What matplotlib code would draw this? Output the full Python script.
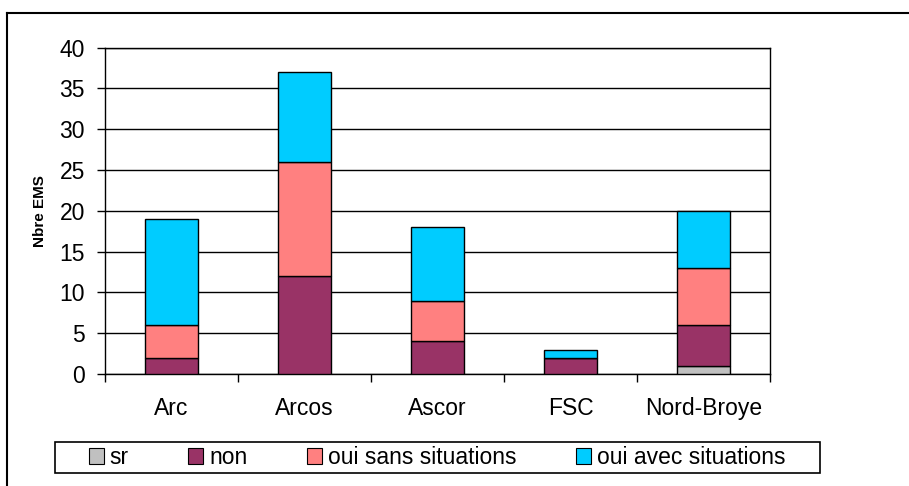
import matplotlib
matplotlib.use("Agg")
import matplotlib.pyplot as plt
import numpy as np
from matplotlib.patches import Rectangle, Patch
from matplotlib.lines import Line2D

plt.rcParams['font.family'] = ['Liberation Sans', 'DejaVu Sans']

categories = ["Arc", "Arcos", "Ascor", "FSC", "Nord-Broye"]
series_names = ["sr", "non", "oui sans situations", "oui avec situations"]
sr = [0, 0, 0, 0, 1]
non = [2, 12, 4, 2, 5]
oui_sans = [4, 14, 5, 0, 7]
oui_avec = [13, 11, 9, 1, 7]
colors = ["#C0C0C0", "#993366", "#FF8080", "#00CCFF"]
yticks = [0, 5, 10, 15, 20, 25, 30, 35, 40]

W, H = 909, 486
fig = plt.figure(figsize=(W / 100, H / 100), dpi=100)
fig.patch.set_facecolor("white")

left, right, top, bottom = 105, 770, 47.7, 374
ax = fig.add_axes([left / W, 1 - bottom / H, (right - left) / W, (bottom - top) / H])

x = np.arange(len(categories))
base = np.zeros(len(categories))
for vals, col, name in zip([sr, non, oui_sans, oui_avec], colors, series_names):
    v = np.array(vals, dtype=float)
    ax.bar(x, v, bottom=base, width=0.4, color=col, edgecolor="black", linewidth=1.0, zorder=3, label=name)
    base += v

ax.set_xlim(-0.5, len(categories) - 0.5)
ax.set_ylim(0, 40)
ax.set_yticks(yticks)
ax.set_yticklabels([str(t) for t in yticks], fontsize=16.5)
ax.yaxis.grid(True, color="black", linewidth=1.0, zorder=0)
ax.set_axisbelow(True)

# category boundary ticks
ax.set_xticks(np.arange(-0.5, len(categories), 1.0))
ax.set_xticklabels([])
ax.set_xticks(x, minor=True)
ax.set_xticklabels(categories, minor=True, fontsize=16.5)
ax.tick_params(axis="x", which="major", direction="out", length=6, width=1, color="black")
ax.tick_params(axis="x", which="minor", length=0, pad=16.5)
ax.tick_params(axis="y", direction="out", length=6, width=1, pad=8.5)
for s in ax.spines.values():
    s.set_color("black")
    s.set_linewidth(1.0)

fig.text(40 / W, 1 - 211 / H, "Nbre EMS", rotation=90, ha="center", va="center",
         fontsize=11, fontweight="bold")

# outer frame (top and left)
fig.add_artist(Line2D([7 / W, 908 / W], [1 - 13 / H, 1 - 13 / H], color="black", linewidth=1.5,
                      transform=fig.transFigure))
fig.add_artist(Line2D([7 / W, 7 / W], [1 - 13 / H, 0], color="black", linewidth=1.5,
                      transform=fig.transFigure))

# legend frame
fig.add_artist(Rectangle((55 / W, 1 - 473 / H), (820 - 55) / W, (473 - 442) / H,
                         transform=fig.transFigure, facecolor="white", edgecolor="black",
                         linewidth=1.2))
handles = [Patch(facecolor=c, edgecolor="black", linewidth=0.8) for c in colors]
fig.legend(handles, series_names, loc="center", bbox_to_anchor=(437 / W, 1 - 457.5 / H),
           ncol=4, frameon=False, fontsize=16.5, handlelength=0.65, handleheight=0.65,
           handletextpad=0.26, columnspacing=2.6, borderpad=0)

fig.savefig("out.png", dpi=100, facecolor="white")
